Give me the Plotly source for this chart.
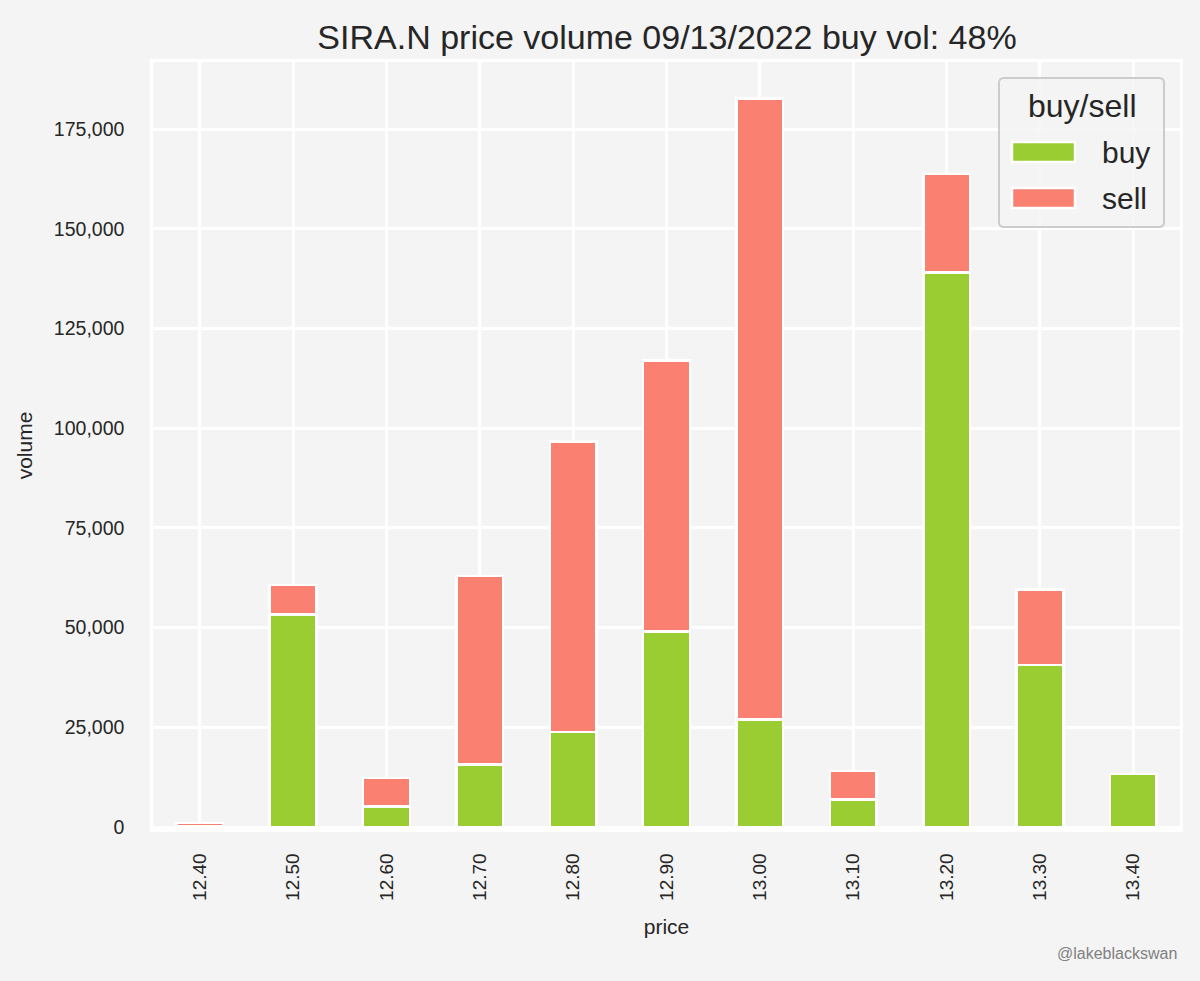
import plotly.graph_objects as go

# Data
prices = ["12.40", "12.50", "12.60", "12.70", "12.80", "12.90",
          "13.00", "13.10", "13.20", "13.30", "13.40"]
buy_volume = [100, 53300, 5200, 15700, 23800, 49000, 26900, 6900, 139000, 40600, 13300]
sell_volume = [900, 7400, 7100, 47200, 72900, 68000, 155800, 7200, 24700, 18900, 0]
y_ticks = [0, 25000, 50000, 75000, 100000, 125000, 150000, 175000]

ticker = "SIRA.N"
trade_date = "09/13/2022"

buy_share = sum(buy_volume) / (sum(buy_volume) + sum(sell_volume))
total_volume = [b + s for b, s in zip(buy_volume, sell_volume)]

BG = "#f4f4f4"
TEXT = "#262626"
FONT = "Liberation Sans, Arial, sans-serif"
BUY_COLOR = "yellowgreen"
SELL_COLOR = "salmon"

W, H = 1200, 981
L, R, T, B = 153, 20, 62, 152


def paper_x(px):
    return (px - L) / (W - L - R)


def paper_y(py):
    return (H - B - py) / (H - T - B)


fig = go.Figure()
fig.add_trace(
    go.Bar(
        x=prices,
        y=buy_volume,
        name="buy",
        width=0.5,
        marker=dict(color=BUY_COLOR, line=dict(color="white", width=2.5)),
        showlegend=False,
    )
)
fig.add_trace(
    go.Bar(
        x=prices,
        y=sell_volume,
        name="sell",
        width=0.5,
        marker=dict(color=SELL_COLOR, line=dict(color="white", width=2.5)),
        showlegend=False,
    )
)

# legend drawn by hand (matplotlib-like box with wide swatches)
box_l, box_r, box_t, box_b = paper_x(999), paper_x(1164), paper_y(78), paper_y(227)
rx = 5 / (W - L - R)
ry = 5 / (H - T - B)
box_path = (
    f"M {box_l + rx},{box_t} L {box_r - rx},{box_t} Q {box_r},{box_t} {box_r},{box_t - ry} "
    f"L {box_r},{box_b + ry} Q {box_r},{box_b} {box_r - rx},{box_b} "
    f"L {box_l + rx},{box_b} Q {box_l},{box_b} {box_l},{box_b + ry} "
    f"L {box_l},{box_t - ry} Q {box_l},{box_t} {box_l + rx},{box_t} Z"
)
shapes = [
    dict(type="path", xref="paper", yref="paper", path=box_path,
         fillcolor="rgba(244,244,244,0.8)", line=dict(color="#cccccc", width=2)),
]
annotations = [
    dict(text="buy/sell", x=paper_x(1082), y=paper_y(106), xref="paper", yref="paper",
         xanchor="center", yanchor="middle", showarrow=False,
         font=dict(size=32, color=TEXT, family=FONT)),
]
for name, color, cy in [("buy", BUY_COLOR, 152), ("sell", SELL_COLOR, 198)]:
    shapes.append(
        dict(type="rect", xref="paper", yref="paper",
             x0=paper_x(1012), x1=paper_x(1075), y0=paper_y(cy - 10), y1=paper_y(cy + 10),
             fillcolor=color, line=dict(color="white", width=2.5))
    )
    annotations.append(
        dict(text=name, x=paper_x(1100), y=paper_y(cy), xref="paper", yref="paper",
             xanchor="left", yanchor="middle", showarrow=False,
             font=dict(size=30, color=TEXT, family=FONT))
    )

annotations.append(
    dict(text="@lakeblackswan", x=paper_x(1179), y=paper_y(953), xref="paper", yref="paper",
         xanchor="right", yanchor="middle", showarrow=False,
         font=dict(size=16, color="#808080", family=FONT))
)

fig.update_layout(
    width=W,
    height=H,
    barmode="stack",
    paper_bgcolor=BG,
    plot_bgcolor=BG,
    font=dict(family=FONT, color=TEXT),
    margin=dict(l=L, r=R, t=T, b=B),
    title=dict(
        text=f"{ticker} price volume {trade_date} buy vol: {buy_share:.0%}",
        x=paper_x(667),
        xref="paper",
        xanchor="center",
        y=1 - 37 / H,
        yanchor="middle",
        font=dict(size=34, color=TEXT, family=FONT),
    ),
    shapes=shapes,
    annotations=annotations,
)
fig.update_xaxes(
    type="category",
    range=[-0.5, len(prices) - 0.5],
    tickangle=-90,
    tickfont=dict(size=19, color=TEXT),
    ticklabelstandoff=14,
    showgrid=True,
    gridcolor="white",
    gridwidth=2.5,
    showline=True,
    linecolor="white",
    linewidth=2.5,
    mirror=True,
    zeroline=False,
    automargin=False,
    title=dict(text="price", font=dict(size=21, color=TEXT), standoff=20),
)
fig.update_yaxes(
    range=[-500, max(total_volume) * 1.05],
    tickvals=y_ticks,
    tickformat=",",
    tickfont=dict(size=19.5, color=TEXT),
    ticklabelstandoff=22,
    showgrid=True,
    gridcolor="white",
    gridwidth=2.5,
    showline=True,
    linecolor="white",
    linewidth=2.5,
    mirror=True,
    zeroline=False,
    automargin=False,
    title=dict(text="volume", font=dict(size=21, color=TEXT), standoff=16),
)

# page background and zero body margin so the figure fills the window
fig.write_html(
    "out.html",
    config={"displayModeBar": False},
    post_script="document.body.style.margin='0';document.body.style.background='#f4f4f4';",
)
